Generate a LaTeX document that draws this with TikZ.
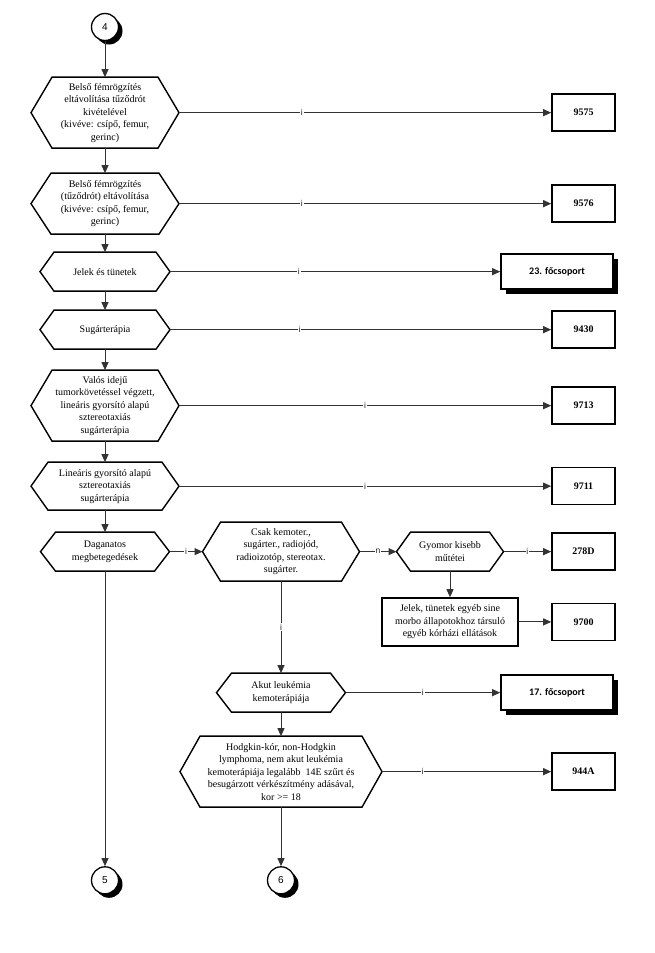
\documentclass[tikz,border=0pt]{standalone}
\usepackage{fontspec}
\setmainfont{Liberation Serif}
\newfontfamily\grpfont{Carlito}
\newfontfamily\sansfont{Liberation Sans}
\usetikzlibrary{arrows.meta, positioning, shadows}
\tikzset{
  hexbox/.style={align=center, outer sep=0pt, inner sep=1pt, font=\fontsize{10}{12.5}\selectfont,
    append after command={\pgfextra{\draw[line width=1.4pt, line join=miter]
      (\tikzlastnode.west) -- ([xshift=#1]\tikzlastnode.north west)
      -- ([xshift=-#1]\tikzlastnode.north east) -- (\tikzlastnode.east)
      -- ([xshift=-#1]\tikzlastnode.south east) -- ([xshift=#1]\tikzlastnode.south west) -- cycle;}}},
  hexbox/.default=16pt
}
\tikzstyle{codebox} = [rectangle, draw=black, line width=1.6pt, minimum width=63pt, minimum height=37pt, fill=white, font=\bfseries]
\tikzstyle{grpbox} = [codebox, minimum width=112pt, minimum height=35pt, font=\grpfont\bfseries, drop shadow={shadow xshift=4.5pt, shadow yshift=-4.5pt, fill=black, opacity=1}]
\tikzstyle{notebox} = [rectangle, draw=black, line width=1.5pt, minimum width=136pt, minimum height=48pt, align=center, font=\fontsize{10}{12.5}\selectfont]
\tikzstyle{conn} = [circle, draw=black, line width=1.3pt, fill=white, minimum size=27pt, inner sep=0pt, font=\sansfont\fontsize{10}{10}\selectfont, drop shadow={shadow xshift=4pt, shadow yshift=-4pt, fill=black, opacity=1}]
\tikzstyle{arrow} = [line width=1pt, draw=black!80, -{Triangle[length=8pt, width=7pt]}]
\tikzstyle{lbl} = [fill=white, inner sep=0.8pt, font=\sansfont\fontsize{8.5}{8.5}\selectfont, text=black!85]

\begin{document}
\begin{tikzpicture}[x=1pt, y=-1pt]
	\useasboundingbox (0,0) rectangle (654,953);
	\coordinate (boxcol) at (583.5,0);
	\coordinate (grpcol) at (557,0);

	% Column 1
	\node (circ4) [conn] at (105,27) {4};
	\node (hexA) [hexbox=21pt, minimum width=148pt, minimum height=71pt, below=36pt of circ4] {Belső fémrögzítés\\eltávolítása tűződrót\\kivételével\\(kivéve: csípő, femur,\\gerinc)};
	\node (hexB) [hexbox=20pt, minimum width=148pt, minimum height=61pt, below=25pt of hexA] {Belső fémrögzítés\\(tűződrót) eltávolítása\\(kivéve: csípő, femur,\\gerinc)};
	\node (hexC) [hexbox=14pt, minimum width=130pt, minimum height=39pt, below=18pt of hexB] {Jelek és tünetek};
	\node (hexD) [hexbox=14pt, minimum width=130pt, minimum height=39pt, below=19pt of hexC] {Sugárterápia};
	\node (hexE) [hexbox=21pt, minimum width=148pt, minimum height=71pt, below=21pt of hexD] {Valós idejű\\tumorkövetéssel végzett,\\lineáris gyorsító alapú\\sztereotaxiás\\sugárterápia};
	\node (hexF) [hexbox=17pt, minimum width=148pt, minimum height=48pt, below=21pt of hexE] {Lineáris gyorsító alapú\\sztereotaxiás\\sugárterápia};
	\node (hexG) [hexbox=15pt, minimum width=129pt, minimum height=39pt, below=22pt of hexF] {Daganatos\\megbetegedések};
	\node (circ5) [conn, below=295pt of hexG] {5};

	% Column 2
	\node (hexCsak) [hexbox=18pt, minimum width=157pt, minimum height=59pt, right=33pt of hexG] {Csak kemoter.,\\sugárter., radiojód,\\radioizotóp, stereotax.\\sugárter.};
	\node (hexAkut) [hexbox=15pt, minimum width=129pt, minimum height=39pt, below=92pt of hexCsak] {Akut leukémia\\kemoterápiája};
	\node (hexHodg) [hexbox=20pt, minimum width=202pt, minimum height=71pt, below=24pt of hexAkut] {Hodgkin-kór, non-Hodgkin\\lymphoma, nem akut leukémia\\kemoterápiája legalább\ \ 14E szűrt és\\besugárzott vérkészítmény adásával,\\kor >= 18};
	\node (circ6) [conn, below=59pt of hexHodg] {6};

	% Column 3
	\node (hexGyom) [hexbox=14pt, minimum width=107pt, minimum height=39pt, right=37pt of hexCsak] {Gyomor kisebb\\műtétei};
	\node (jelek) [notebox, below=26pt of hexGyom] {Jelek, tünetek egyéb sine\\morbo állapotokhoz társuló\\egyéb kórházi ellátások};

	% Result boxes
	\node (c9575) [codebox] at (hexA -| boxcol) {9575};
	\node (c9576) [codebox] at (hexB -| boxcol) {9576};
	\node (g23) [grpbox] at (hexC -| grpcol) {23. főcsoport};
	\node (c9430) [codebox] at (hexD -| boxcol) {9430};
	\node (c9713) [codebox] at (hexE -| boxcol) {9713};
	\node (c9711) [codebox] at (hexF -| boxcol) {9711};
	\node (c278D) [codebox] at (hexGyom -| boxcol) {278D};
	\node (c9700) [codebox] at (jelek -| boxcol) {9700};
	\node (g17) [grpbox] at (hexAkut -| grpcol) {17. főcsoport};
	\node (c944A) [codebox] at (hexHodg -| boxcol) {944A};

	% Arrows column 1
	\draw [arrow] (circ4) -- (hexA);
	\draw [arrow] (hexA) -- (hexB);
	\draw [arrow] (hexB) -- (hexC);
	\draw [arrow] (hexC) -- (hexD);
	\draw [arrow] (hexD) -- (hexE);
	\draw [arrow] (hexE) -- (hexF);
	\draw [arrow] (hexF) -- (hexG);
	\draw [arrow] (hexG) -- (circ5);

	% Links to the result boxes
	\draw [arrow] (hexA.east) -- node[lbl, pos=0.33] {i} (c9575.west);
	\draw [arrow] (hexB.east) -- node[lbl, pos=0.33] {i} (c9576.west);
	\draw [arrow] (hexC.east) -- node[lbl, pos=0.39] {i} (g23.west);
	\draw [arrow] (hexD.east) -- node[lbl, pos=0.34] {i} (c9430.west);
	\draw [arrow] (hexE.east) -- node[lbl, pos=0.5] {i} (c9713.west);
	\draw [arrow] (hexF.east) -- node[lbl, pos=0.5] {i} (c9711.west);

	% Arrows columns 2 and 3
	\draw [arrow] (hexG.east) -- node[lbl] {i} (hexCsak.west);
	\draw [arrow] (hexCsak.east) -- node[lbl] {n} (hexGyom.west);
	\draw [arrow] (hexGyom.east) -- node[lbl] {i} (c278D.west);
	\draw [arrow] (hexGyom) -- (jelek);
	\draw [arrow] (jelek.east) -- (c9700.west);
	\draw [arrow] (hexCsak) -- node[lbl] {i} (hexAkut);
	\draw [arrow] (hexAkut.east) -- node[lbl] {i} (g17.west);
	\draw [arrow] (hexAkut) -- (hexHodg);
	\draw [arrow] (hexHodg.east) -- node[lbl, pos=0.24] {i} (c944A.west);
	\draw [arrow] (hexHodg) -- (circ6);

\end{tikzpicture}
\end{document}
